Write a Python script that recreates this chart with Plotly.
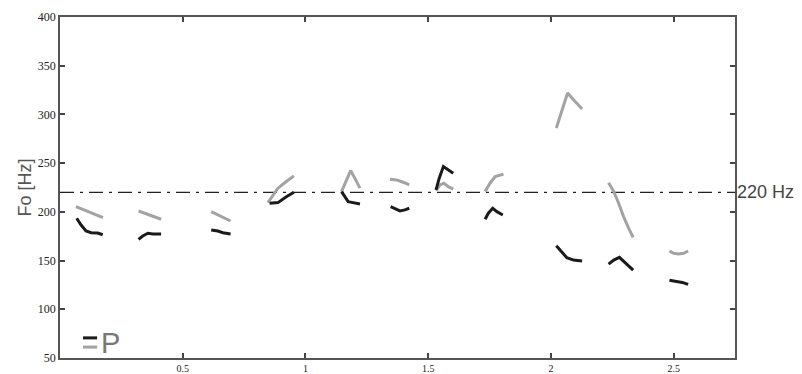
import plotly.graph_objects as go

# Segments of F0 contour (x in s, y in Hz)
black_x = [
    [0.068, 0.086, 0.106, 0.127, 0.153, 0.174],
    [0.320, 0.337, 0.358, 0.378, 0.412],
    [0.616, 0.643, 0.664, 0.695],
    [0.854, 0.888, 0.922, 0.953],
    [1.147, 1.160, 1.174, 1.194, 1.222],
    [1.347, 1.367, 1.385, 1.405, 1.423],
    [1.532, 1.545, 1.562, 1.582, 1.602],
    [1.732, 1.745, 1.763, 1.780, 1.804],
    [2.022, 2.045, 2.065, 2.092, 2.127],
    [2.235, 2.256, 2.279, 2.296, 2.317, 2.335],
    [2.483, 2.507, 2.535, 2.559],
]
black_y = [
    [193.4, 186.5, 180.3, 178.6, 178.3, 176.5],
    [171.8, 175.2, 178.0, 177.3, 177.3],
    [181.4, 180.3, 178.6, 177.3],
    [208.8, 209.5, 215.6, 220.2],
    [220.8, 215.6, 210.5, 209.5, 208.1],
    [205.3, 202.7, 200.9, 202.0, 203.7],
    [222.5, 234.6, 246.5, 243.1, 239.7],
    [192.4, 198.6, 203.7, 200.2, 196.8],
    [165.2, 159.1, 152.9, 150.5, 149.5],
    [146.4, 150.5, 153.3, 149.5, 144.3, 140.2],
    [129.9, 129.2, 127.6, 125.5],
]
gray_x = [
    [0.065, 0.175],
    [0.320, 0.412],
    [0.616, 0.695],
    [0.847, 0.888, 0.922, 0.953],
    [1.147, 1.164, 1.184, 1.201, 1.222],
    [1.344, 1.371, 1.398, 1.423],
    [1.532, 1.548, 1.564, 1.582, 1.602],
    [1.732, 1.752, 1.773, 1.807],
    [2.022, 2.045, 2.068, 2.092, 2.127],
    [2.235, 2.256, 2.276, 2.296, 2.317, 2.335],
    [2.483, 2.500, 2.521, 2.541, 2.559],
]
gray_y = [
    [205.3, 194.0],
    [200.9, 192.4],
    [200.2, 190.6],
    [209.5, 224.3, 231.1, 236.9],
    [220.8, 231.1, 242.4, 234.6, 224.3],
    [233.5, 232.8, 230.4, 227.7],
    [221.8, 227.7, 229.4, 225.9, 223.3],
    [220.8, 229.4, 236.2, 238.7],
    [286.0, 304.8, 322.0, 315.1, 305.5],
    [230.0, 220.8, 208.8, 195.1, 183.1, 173.9],
    [159.8, 157.4, 156.7, 157.4, 159.8],
]
ref_level = 220
x_ticks = [0.5, 1, 1.5, 2, 2.5]
x_labels = ["0.5", "1", "1.5", "2", "2.5"]
y_ticks = [50, 100, 150, 200, 250, 300, 350, 400]

BLACK = "#1a1a1a"
GRAY = "#a3a3a3"

fig = go.Figure()

# reference line
fig.add_trace(go.Scatter(x=[0, 2.75], y=[ref_level, ref_level], mode="lines",
                         line=dict(color="#222", width=1.3, dash="14px,6px,3px,6px"),
                         hoverinfo="skip", showlegend=False))

for xs, ys in zip(gray_x, gray_y):
    fig.add_trace(go.Scatter(x=xs, y=ys, mode="lines",
                             line=dict(color=GRAY, width=3), showlegend=False))
for xs, ys in zip(black_x, black_y):
    fig.add_trace(go.Scatter(x=xs, y=ys, mode="lines",
                             line=dict(color=BLACK, width=3), showlegend=False))

axis_common = dict(showline=True, linecolor="#555", linewidth=1.5, mirror="ticks",
                   ticks="inside", ticklen=5, tickcolor="#444", tickwidth=1.5,
                   showgrid=False, zeroline=False, automargin=False)

fig.update_xaxes(range=[0, 2.75], tickvals=x_ticks, ticktext=x_labels,
                 tickfont=dict(family="Liberation Serif", size=10, color="#222"),
                 ticklabelstandoff=0, **axis_common)
fig.update_yaxes(range=[50, 400], tickvals=y_ticks,
                 tickfont=dict(family="Liberation Serif", size=12, color="#222"),
                 title=dict(text="Fo [Hz]", font=dict(family="Liberation Sans", size=18, color="#555"),
                            standoff=2),
                 **axis_common)

# legend-like marker "=P"
fig.add_shape(type="line", xref="paper", yref="paper", x0=0.034, x1=0.055, y0=0.059, y1=0.059,
              line=dict(color=BLACK, width=3))
fig.add_shape(type="line", xref="paper", yref="paper", x0=0.034, x1=0.055, y0=0.032, y1=0.032,
              line=dict(color=GRAY, width=3))
fig.add_annotation(xref="paper", yref="paper", x=0.058, y=0.045, text="P", showarrow=False,
                   xanchor="left", yanchor="middle",
                   font=dict(family="Liberation Sans Narrow, Liberation Sans", size=29, color="#777"))

fig.add_annotation(xref="paper", yref="y", x=1.0, y=ref_level, text="220 Hz", showarrow=False,
                   xanchor="left", yanchor="middle", xshift=0,
                   font=dict(family="Liberation Sans", size=18, color="#444"))

# page body has an 8px default margin; compensate so the plot lands where the reference's does
fig.update_layout(width=794, height=366, margin=dict(l=52, r=67, t=9, b=16),
                  plot_bgcolor="white", paper_bgcolor="white", showlegend=False)

fig.write_html("out.html")
